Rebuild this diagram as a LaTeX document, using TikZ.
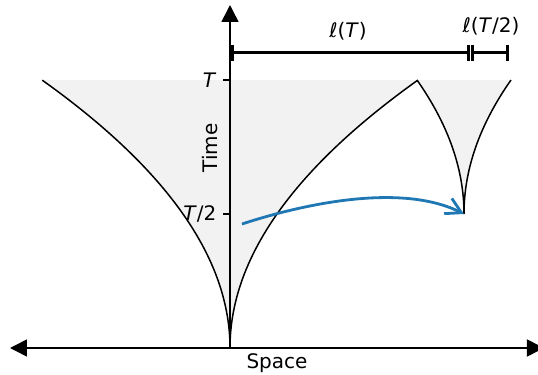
\documentclass[tikz,border=0pt]{standalone}
\usepackage{fontspec}
\setmainfont{DejaVu Sans}
\usetikzlibrary{arrows.meta}
\definecolor{conegray}{RGB}{242,242,242}
\definecolor{flowblue}{RGB}{31,119,180}

\begin{document}
\begin{tikzpicture}[
            x=0.5pt, y=-0.5pt,
            axis/.style={line width=0.8pt, -{Triangle[length=8.5pt,width=8.5pt]}},
            cone/.style={line width=0.75pt},
            tickmark/.style={line width=0.6pt},
            span/.style={line width=1.5pt},
            lab/.style={font=\fontsize{10}{12}\selectfont, inner sep=0pt}
        ]
            \useasboundingbox (0,0) rectangle (538,375);
            % cusps of the two cones
            \coordinate (origin) at (230,348);
            \coordinate (apex) at (464,214);

            % shaded region above the cones
            \fill[conegray] plot[domain=1:0, samples=60] ({230-188*\x*\x},{348-268*\x})
                -- plot[domain=0:1, samples=60] ({230+188*\x*\x},{348-268*\x})
                -- plot[domain=1:0, samples=40] ({464-47*\x*\x},{214-134*\x})
                -- plot[domain=0:1, samples=40] ({464+47*\x*\x},{214-134*\x}) -- cycle;

            \draw[cone] plot[domain=0:1, samples=60] ({230-188*\x*\x},{348-268*\x});
            \draw[cone] plot[domain=0:1, samples=60] ({230+188*\x*\x},{348-268*\x});
            \draw[cone] plot[domain=0:1, samples=40] ({464-47*\x*\x},{214-134*\x});
            \draw[cone] plot[domain=0:1, samples=40] ({464+47*\x*\x},{214-134*\x});

            % axes
            \coordinate (timetop) at (230,5);
            \coordinate (spaceleft) at (10,348);
            \coordinate (spaceright) at (544,348);
            \draw[axis] (origin) -- (timetop);
            \draw[axis] (origin) -- (spaceleft);
            \draw[axis] (origin) -- (spaceright);

            % ticks
            \coordinate (tickT) at (230,80);
            \coordinate (tickhalf) at (230,214);
            \draw[tickmark] (tickT) -- ++(-7,0) node[lab, anchor=east, xshift=-3pt] (labT) {\textit{T}};
            \draw[tickmark] (tickhalf) -- ++(-7,0) node[lab, anchor=east, xshift=-3pt] (labhalf) {\textit{T}/2};

            \node[lab, rotate=90] (timelab) at (210,148) {Time};
            \node[lab] (spacelab) at (277,363) {Space};

            % lengths
            \coordinate (spanA) at (233,53);
            \coordinate (spanB) at (468.5,53);
            \coordinate (spanC) at (472.5,53);
            \coordinate (spanD) at (507.5,53);
            \draw[span] (spanA) -- (spanB);
            \draw[span] (spanC) -- (spanD);
            \foreach \p in {spanA,spanB,spanC,spanD}
                \draw[span] ([yshift=4.2pt]\p) -- ([yshift=-4.2pt]\p);
            \node[lab] (lenT) at (348,31) {\textit{ℓ}(\textit{T})};
            \node[lab] (lenhalf) at (491,26) {\textit{ℓ}(\textit{T}/2)};

            % rescaling arrow
            \coordinate (flowstart) at (242,224);
            \draw[flowblue, line width=1.4pt, -{Straight Barb[length=7.5pt,width=8.5pt]}]
                (flowstart) .. controls (300,205) and (400,182) .. (apex);
        \end{tikzpicture}
\end{document}
